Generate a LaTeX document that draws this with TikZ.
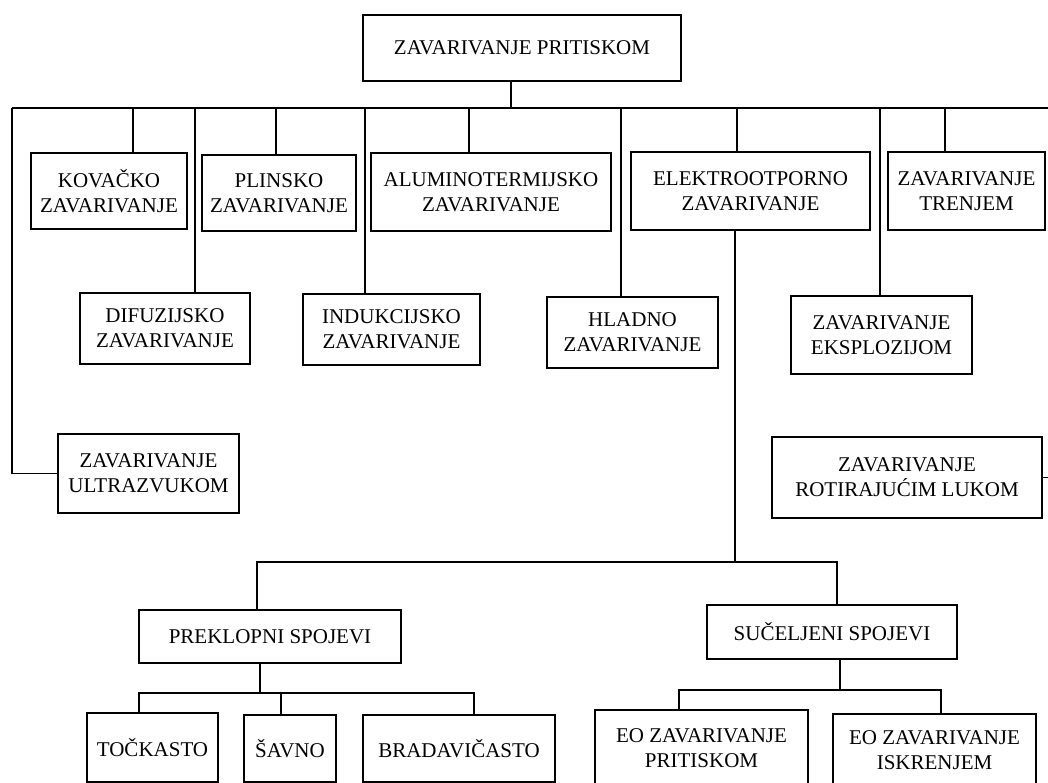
\documentclass[tikz,border=0pt]{standalone}
\usepackage{fontspec}
\setmainfont{Liberation Serif}
\usepackage{tikz}

\begin{document}
\begin{tikzpicture}[x=1pt, y=-1pt, line width=1.5pt,
    box/.style={draw, align=center, inner sep=0pt, font=\fontsize{21}{25}\selectfont}]

    \clip (0,0) rectangle (1048,783);

    \node [box, minimum width=318, minimum height=66] (top) at (522,48) {ZAVARIVANJE PRITISKOM};

    \node [box, minimum width=156, minimum height=76] (kovacko) at (109,191) {KOVAČKO\\ZAVARIVANJE};
    \node [box, minimum width=154, minimum height=76] (plinsko) at (279,193) {PLINSKO\\ZAVARIVANJE};
    \node [box, minimum width=240, minimum height=78] (alumino) at (491,192) {ALUMINOTERMIJSKO\\ZAVARIVANJE};
    \node [box, minimum width=239, minimum height=78] (elektro) at (750.5,191) {ELEKTROOTPORNO\\ZAVARIVANJE};
    \node [box, minimum width=157, minimum height=78] (trenje) at (966.5,191) {ZAVARIVANJE\\TRENJEM};

    \node [box, minimum width=170, minimum height=71] (difuz) at (165,328.5) {DIFUZIJSKO\\ZAVARIVANJE};
    \node [box, minimum width=177, minimum height=71] (indukc) at (391.5,329.5) {INDUKCIJSKO\\ZAVARIVANJE};
    \node [box, minimum width=171, minimum height=71] (hladno) at (632.5,332.5) {HLADNO\\ZAVARIVANJE};
    \node [box, minimum width=181, minimum height=78] (eksplo) at (881.5,335) {ZAVARIVANJE\\EKSPLOZIJOM};

    \node [box, minimum width=181, minimum height=79] (ultraz) at (148.5,473.5) {ZAVARIVANJE\\ULTRAZVUKOM};
    \node [box, minimum width=270, minimum height=81] (rotir) at (907,477.5) {ZAVARIVANJE\\ROTIRAJUĆIM LUKOM};

    \node [box, minimum width=262, minimum height=53] (preklop) at (270,636.5) {PREKLOPNI SPOJEVI};
    \node [box, minimum width=250, minimum height=54] (sucelj) at (832,632) {SUČELJENI SPOJEVI};

    \node [box, minimum width=131, minimum height=69] (tockasto) at (152.5,747.5) {TOČKASTO};
    \node [box, minimum width=92, minimum height=67] (savno) at (290,748.5) {ŠAVNO};
    \node [box, minimum width=192, minimum height=67] (bradav) at (459,748.5) {BRADAVIČASTO};
    \node [box, minimum width=213, minimum height=76] (eopritisk) at (701.5,748) {EO ZAVARIVANJE\\PRITISKOM};
    \node [box, minimum width=203, minimum height=72] (eoiskr) at (934.5,750) {EO ZAVARIVANJE\\ISKRENJEM};

    % main bus
    \coordinate (busL) at (12,108);
    \coordinate (busR) at (1048,108);
    \coordinate (b0) at (511,108);
    \coordinate (b1) at (133,108);
    \coordinate (b2) at (195,108);
    \coordinate (b3) at (276,108);
    \coordinate (b4) at (365,108);
    \coordinate (b5) at (469,108);
    \coordinate (b6) at (621,108);
    \coordinate (b7) at (737,108);
    \coordinate (b8) at (880,108);
    \coordinate (b9) at (945,108);
    \coordinate (rr) at (1048,483);

    \draw (b0 |- top.south) -- (b0);
    \draw (busL) -- (busR);
    \draw (busL) |- (ultraz.west);
    \draw (b1) -- (b1 |- kovacko.north);
    \draw (b2) -- (b2 |- difuz.north);
    \draw (b3) -- (b3 |- plinsko.north);
    \draw (b4) -- (b4 |- indukc.north);
    \draw (b5) -- (b5 |- alumino.north);
    \draw (b6) -- (b6 |- hladno.north);
    \draw (b7) -- (b7 |- elektro.north);
    \draw (b8) -- (b8 |- eksplo.north);
    \draw (b9) -- (b9 |- trenje.north);
    \draw (rotir.east) -- (rr |- rotir.east);

    \coordinate (e) at (735,562);
    \coordinate (eL) at (257,562);
    \coordinate (eR) at (837,562);
    \draw (e |- elektro.south) -- (e);
    \draw (eL |- preklop.north) -- (eL) -- (eR) -- (eR |- sucelj.north);

    \coordinate (p) at (260,693);
    \coordinate (p1) at (139,693);
    \coordinate (p2) at (281,693);
    \coordinate (p3) at (474,693);
    \draw (p |- preklop.south) -- (p);
    \draw (p1 |- tockasto.north) -- (p1) -- (p3) -- (p3 |- bradav.north);
    \draw (p2) -- (p2 |- savno.north);

    \coordinate (s) at (840,690);
    \coordinate (s1) at (679,690);
    \coordinate (s2) at (941,690);
    \draw (s |- sucelj.south) -- (s);
    \draw (s1 |- eopritisk.north) -- (s1) -- (s2) -- (s2 |- eoiskr.north);
\end{tikzpicture}
\end{document}
